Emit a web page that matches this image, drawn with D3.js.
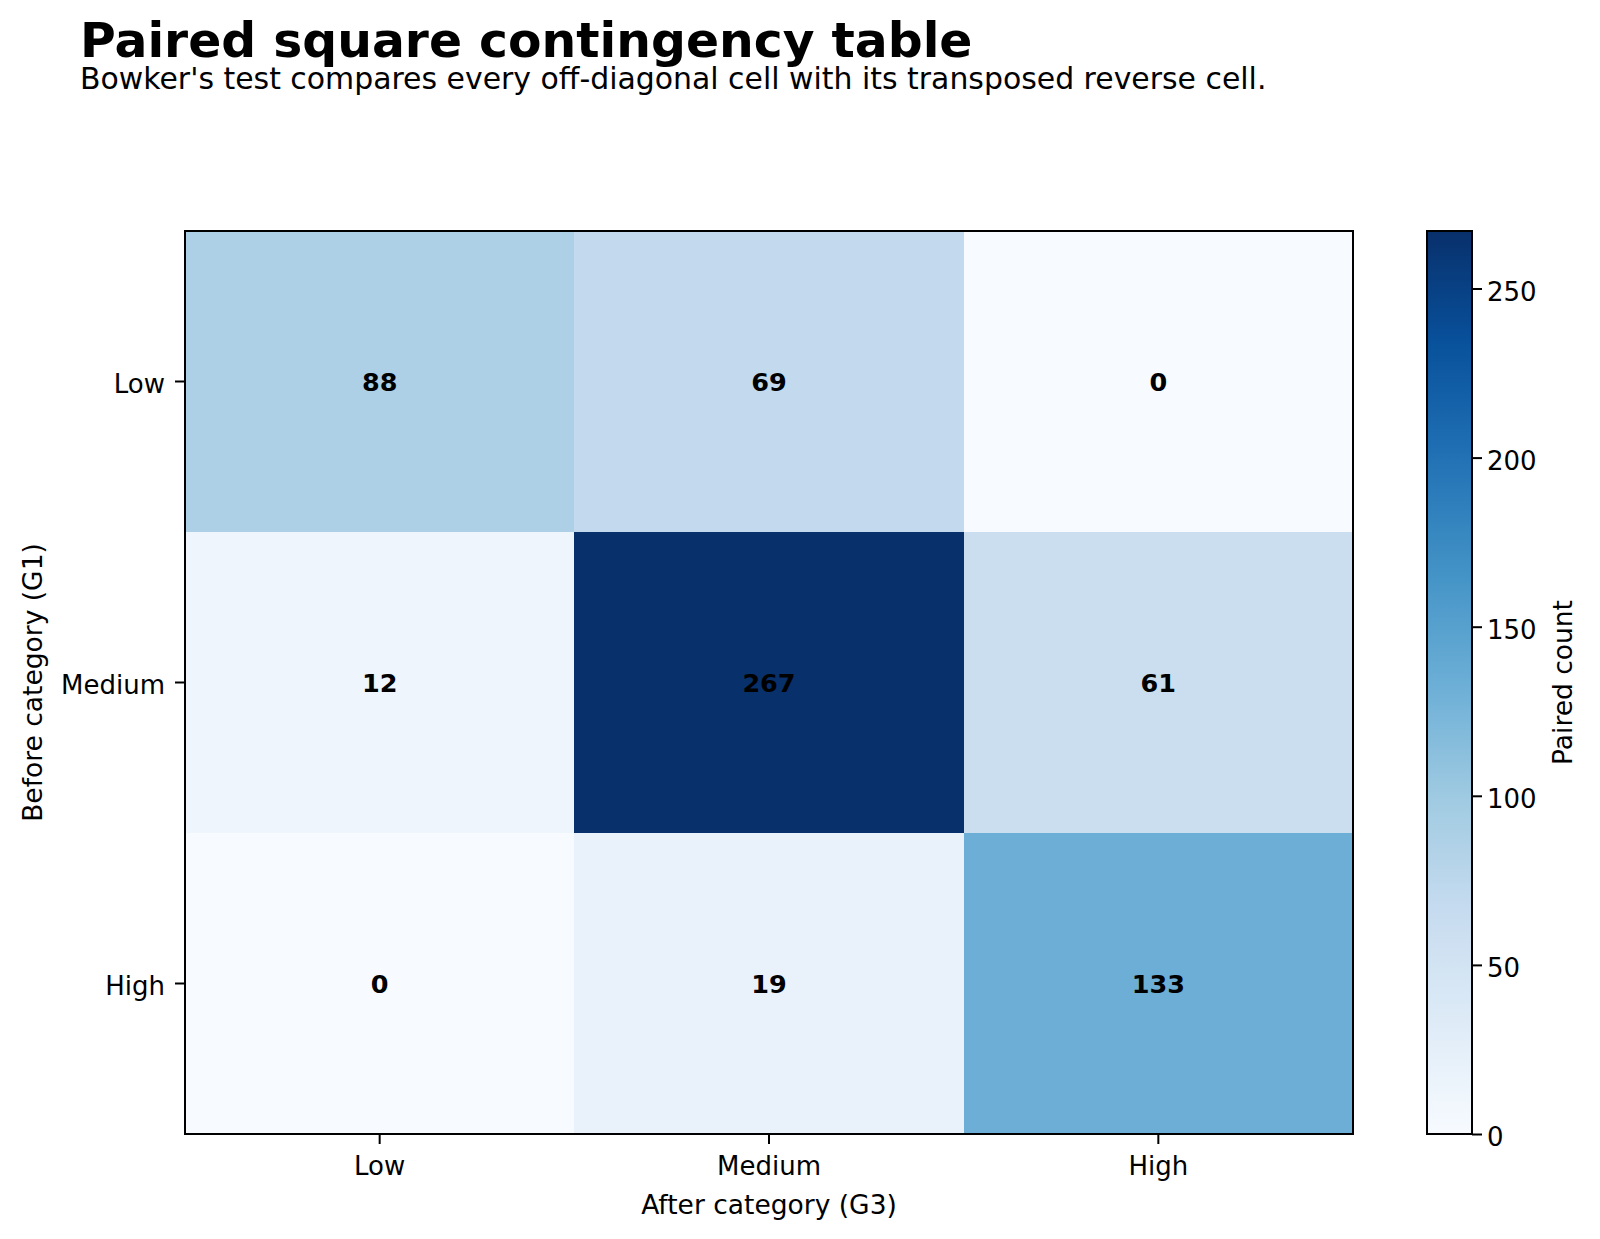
<!DOCTYPE html>
<html>
<head>
  <meta charset="utf-8">
  <title>Paired square contingency table</title>
  <script src="https://cdn.jsdelivr.net/npm/d3@7"></script>
  <style>
    body { margin: 0; background: #fff; }
    text { font-family: "DejaVu Sans", sans-serif; }
  </style>
</head>
<body>
<script>
  // categories (same for rows = before, columns = after)
  const categories = ["Low", "Medium", "High"];

  // paired counts, one array per "before" row
  const rowLow = [88, 69, 0];
  const rowMedium = [12, 267, 61];
  const rowHigh = [0, 19, 133];
  const counts = [rowLow, rowMedium, rowHigh];

  const colorbarTicks = [0, 50, 100, 150, 200, 250];

  // matplotlib "Blues" anchor colours
  const blues = ["#f7fbff", "#deebf7", "#c6dbef", "#9ecae1", "#6baed6",
                 "#4292c6", "#2171b5", "#08519c", "#08306b"];

  const W = 1600, H = 1239;
  const plot = { left: 185, right: 1353, top: 231, bottom: 1134 };
  const cbar = { left: 1427, right: 1472 };

  const svg = d3.select("body").append("svg")
    .attr("width", W).attr("height", H);

  // titles
  svg.append("text")
    .attr("x", 80).attr("y", 57)
    .attr("font-size", 48.8).attr("font-weight", "bold")
    .text("Paired square contingency table");
  svg.append("text")
    .attr("x", 80).attr("y", 89)
    .attr("font-size", 29.9)
    .text("Bowker's test compares every off-diagonal cell with its transposed reverse cell.");

  const x = d3.scaleBand().domain(categories).range([plot.left, plot.right]);
  const y = d3.scaleBand().domain(categories).range([plot.top, plot.bottom]);

  const vmax = d3.max(counts.flat());
  const color = d3.scaleLinear()
    .domain(blues.map((c, i) => vmax * i / (blues.length - 1)))
    .range(blues)
    .interpolate(d3.interpolateRgb);

  const cells = [];
  counts.forEach((row, i) => row.forEach((v, j) => {
    cells.push({ before: categories[i], after: categories[j], value: v });
  }));

  svg.append("g").selectAll("rect")
    .data(cells)
    .enter()
    .append("rect")
    .attr("x", d => x(d.after))
    .attr("y", d => y(d.before))
    .attr("width", x.bandwidth())
    .attr("height", y.bandwidth())
    .attr("fill", d => color(d.value))
    .attr("shape-rendering", "crispEdges");

  svg.append("g").selectAll("text")
    .data(cells)
    .enter()
    .append("text")
    .attr("x", d => x(d.after) + x.bandwidth() / 2)
    .attr("y", d => y(d.before) + y.bandwidth() / 2)
    .attr("text-anchor", "middle")
    .attr("dy", "0.36em")
    .attr("font-size", 25.5)
    .attr("font-weight", "bold")
    .text(d => d.value);

  // frame
  svg.append("rect")
    .attr("x", plot.left).attr("y", plot.top)
    .attr("width", plot.right - plot.left).attr("height", plot.bottom - plot.top)
    .attr("fill", "none").attr("stroke", "#000").attr("stroke-width", 2);

  // axes
  const xAxis = svg.append("g")
    .attr("transform", `translate(0,${plot.bottom})`)
    .call(d3.axisBottom(x).tickSize(10).tickPadding(13));
  const yAxis = svg.append("g")
    .attr("transform", `translate(${plot.left},0)`)
    .call(d3.axisLeft(y).tickSize(10).tickPadding(10));
  [xAxis, yAxis].forEach(g => {
    g.select(".domain").remove();
    g.selectAll(".tick line").attr("stroke", "#000").attr("stroke-width", 2);
    g.selectAll(".tick text").attr("font-size", 26).attr("fill", "#000")
      .attr("font-family", "DejaVu Sans");
  });
  yAxis.selectAll(".tick text").attr("dy", "0.45em");

  svg.append("text")
    .attr("x", (plot.left + plot.right) / 2).attr("y", 1214)
    .attr("text-anchor", "middle").attr("font-size", 26.5)
    .text("After category (G3)");
  svg.append("text")
    .attr("transform", `translate(42,${(plot.top + plot.bottom) / 2}) rotate(-90)`)
    .attr("text-anchor", "middle").attr("font-size", 26.5)
    .text("Before category (G1)");

  // colorbar
  const cy = d3.scaleLinear().domain([0, vmax]).range([plot.bottom, plot.top]);
  const grad = svg.append("defs").append("linearGradient")
    .attr("id", "cbgrad").attr("x1", 0).attr("y1", 1).attr("x2", 0).attr("y2", 0);
  grad.selectAll("stop")
    .data(d3.range(0, 1.0001, 0.02))
    .enter().append("stop")
    .attr("offset", d => d)
    .attr("stop-color", d => color(d * vmax));
  svg.append("rect")
    .attr("x", cbar.left).attr("y", plot.top)
    .attr("width", cbar.right - cbar.left).attr("height", plot.bottom - plot.top)
    .attr("fill", "url(#cbgrad)")
    .attr("stroke", "#000").attr("stroke-width", 2);

  const cAxis = svg.append("g")
    .attr("transform", `translate(${cbar.right},0)`)
    .call(d3.axisRight(cy).tickValues(colorbarTicks).tickSize(10).tickPadding(5));
  cAxis.select(".domain").remove();
  cAxis.selectAll(".tick line").attr("stroke", "#000").attr("stroke-width", 2);
  cAxis.selectAll(".tick text").attr("font-size", 26).attr("fill", "#000")
    .attr("font-family", "DejaVu Sans").attr("dy", "0.45em");

  svg.append("text")
    .attr("transform", `translate(1572,${(plot.top + plot.bottom) / 2}) rotate(-90)`)
    .attr("text-anchor", "middle").attr("font-size", 26.5)
    .text("Paired count");
</script>
</body>
</html>
